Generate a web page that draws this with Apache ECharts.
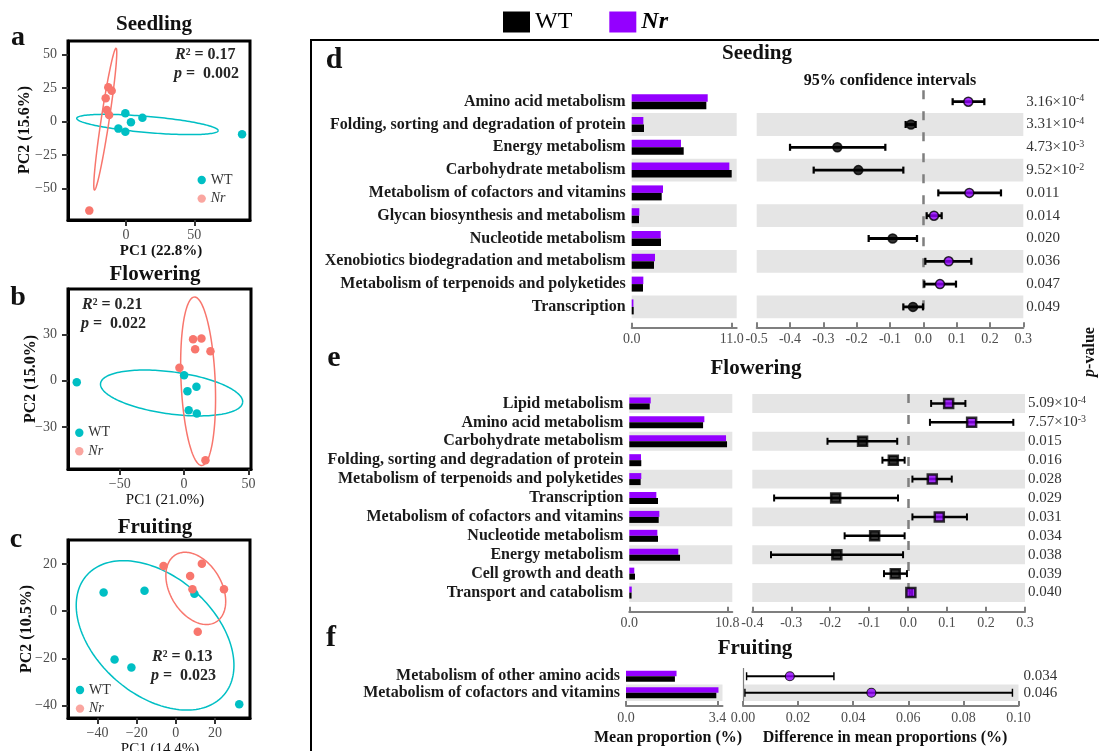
<!DOCTYPE html>
<html><head><meta charset="utf-8">
<script src="https://cdn.jsdelivr.net/npm/echarts@6/dist/echarts.min.js"></script>
<style>html,body{margin:0;padding:0;background:#fff}#c{width:1099px;height:751px}</style>
</head><body><div id="c"></div>
<script>
// ---------- PCoA data (PC1, PC2) ----------
const aWT = [[-0.5,6.2],[3.6,-0.5],[12,3],[-5.6,-5.2],[-0.5,-7.5],[85,-9.4]];
const aNr = [[-13,25.7],[-10.5,23.1],[-14.9,17.5],[-14.1,8.7],[-12.4,5],[-26.9,-66.4]];
const bWT = [[-83.4,-1.0],[0,3.5],[2.6,-6.7],[9.6,-3.9],[3.6,-19],[9.9,-21.2]];
const bNr = [[-3.6,8.5],[7,26.9],[13.5,27.3],[8.6,20.4],[20.5,19.1],[16.6,-51.5]];
const cWT = [[-36.9,7.9],[-16,8.6],[9.5,7.3],[-31.3,-20.5],[-22.7,-23.9],[32.4,-39.5]];
const cNr = [[-6.3,19.1],[13.3,20],[7.3,14.8],[8.5,9.2],[24.6,9.2],[11.2,-8.8]];
// confidence ellipses: [cx, cy, ux, uy, vx, vy] (centre + two conjugate semi-axes, data units)
const aEllWT = [15.7,-2.1,51.8,-4.6,0.5,6.0];
const aEllNr = [-15.2,1.9,7.9,52.9,2.9,-0.45];
const bEllWT = [-9.7,-7.9,55.2,-6.2,-2.2,-13.5];
const bEllNr = [10.9,-0.3,-2.9,54.5,13.25,0.5];
const cEllWT = [-10.6,-10.3,35.1,-25.3,-19.8,-19];
const cEllNr = [10.2,9.6,10.4,-14.2,-11.2,-5.7];
const aTicksX = [0,50], aTicksY = [-50,-25,0,25,50];
const bTicksX = [-50,0,50], bTicksY = [-30,0,30];
const cTicksX = [-40,-20,0,20], cTicksY = [-40,-20,0,20];
const statA = ['0.17','0.002'], statB = ['0.21','0.022'], statC = ['0.13','0.023'];

// ---------- STAMP-like data ----------
const dCats = ['Amino acid metabolism','Folding, sorting and degradation of protein','Energy metabolism','Carbohydrate metabolism','Metabolism of cofactors and vitamins','Glycan biosynthesis and metabolism','Nucleotide metabolism','Xenobiotics biodegradation and metabolism','Metabolism of terpenoids and polyketides','Transcription'];
const dWT = [8.21,1.35,5.72,11.0,3.30,0.80,3.22,2.45,1.24,0.22];
const dNr = [8.36,1.28,5.42,10.74,3.44,0.84,3.19,2.56,1.28,0.19];
const dDiff = [0.135,-0.037,-0.258,-0.195,0.138,0.032,-0.092,0.076,0.050,-0.031];
const dLo = [0.088,-0.053,-0.400,-0.329,0.045,0.010,-0.164,0.006,0.003,-0.060];
const dHi = [0.183,-0.023,-0.114,-0.060,0.233,0.055,-0.019,0.144,0.098,-0.001];
const dP = ['3.16×10^-4','3.31×10^-4','4.73×10^-3','9.52×10^-2','0.011','0.014','0.020','0.036','0.047','0.049'];
const dBarTicks = [0, 11.0];

const eCats = ['Lipid metabolism','Amino acid metabolism','Carbohydrate metabolism','Folding, sorting and degradation of protein','Metabolism of terpenoids and polyketides','Transcription','Metabolism of cofactors and vitamins','Nucleotide metabolism','Energy metabolism','Cell growth and death','Transport and catabolism'];
const eWT = [2.25,8.13,10.77,1.32,1.25,3.16,3.24,3.16,5.59,0.63,0.25];
const eNr = [2.36,8.27,10.66,1.29,1.32,2.98,3.31,3.09,5.40,0.55,0.27];
const eDiff = [0.104,0.163,-0.117,-0.038,0.062,-0.186,0.080,-0.086,-0.183,-0.033,0.007];
const eLo = [0.059,0.056,-0.207,-0.066,0.011,-0.344,0.011,-0.163,-0.352,-0.062,0.004];
const eHi = [0.147,0.270,-0.028,-0.009,0.112,-0.026,0.151,-0.009,-0.013,-0.003,0.010];
const eP = ['5.09×10^-4','7.57×10^-3','0.015','0.016','0.028','0.029','0.031','0.034','0.038','0.039','0.040'];
const eBarTicks = [0, 10.8];

const fCats = ['Metabolism of other amino acids','Metabolism of cofactors and vitamins'];
const fWT = [1.82,3.36];
const fNr = [1.88,3.44];
const fDiff = [0.017,0.0466];
const fLo = [0.0013,0.0007];
const fHi = [0.033,0.0978];
const fP = ['0.034','0.046'];
const fBarTicks = [0, 3.4];

// ---------- styling ----------
const SERIF = 'Liberation Serif';
const TEAL = '#00BFC4', SALMON = '#F8766D', PURPLE = '#9400FF', BAND = '#E5E5E5';

const chart = echarts.init(document.getElementById('c'), null, {renderer:'canvas'});

const grids = [
  {left:68, top:41, width:182, height:179},     // a
  {left:68, top:289, width:183, height:180},    // b
  {left:68, top:540, width:182, height:178},    // c
  {left:631.7, top:90.3, width:105, height:228},   // d bar
  {left:756.7, top:90.3, width:266.6, height:228}, // d ci
  {left:629.3, top:394, width:103, height:208},    // e bar
  {left:752.3, top:394, width:272.7, height:208},  // e ci
  {left:626, top:668, width:96.5, height:33},      // f bar
  {left:743, top:668, width:275.5, height:33}      // f ci
].map((g,i)=>Object.assign({outerBoundsMode:'none', containLabel:false}, g,
   i<3 ? {show:true, borderColor:'#000', borderWidth:3, backgroundColor:'transparent'} : {show:false}));

const minus = v => String(v).replace('-', '\u2212');
function pcX(gi, min, max, ticks){
  return {type:'value', gridIndex:gi, min, max, splitLine:{show:false},
    axisLine:{show:true, onZero:false, lineStyle:{color:'#000', width:3}},
    axisTick:{show:true, length:6, lineStyle:{color:'#333', width:2}, customValues:ticks},
    axisLabel:{customValues:ticks, color:'#4d4d4d', fontSize:14, fontFamily:SERIF, margin:8, formatter:minus}};
}
function pcY(gi, min, max, ticks){
  const o = pcX(gi, min, max, ticks); o.axisLabel.margin = 11; return o;
}
function barX(gi, max, ticks, off){
  return {type:'value', gridIndex:gi, min:0, max, offset:off, splitLine:{show:false},
    axisLine:{show:true, onZero:false, lineStyle:{color:'#7f7f7f', width:2}},
    axisTick:{show:true, inside:true, length:5, lineStyle:{color:'#7f7f7f', width:2}, customValues:ticks},
    axisLabel:{customValues:ticks, formatter:v=>v.toFixed(1), color:'#4d4d4d', fontSize:14, fontFamily:SERIF, margin:5}};
}
function ciX(gi, min, max, interval, dec, off){
  return {type:'value', gridIndex:gi, min, max, interval, offset:off, splitLine:{show:false},
    axisLine:{show:true, onZero:false, lineStyle:{color:'#7f7f7f', width:2}},
    axisTick:{show:true, inside:true, length:5, lineStyle:{color:'#7f7f7f', width:2}},
    axisLabel:{formatter:v=>(Math.abs(v)<1e-9?0:v).toFixed(dec), color:'#4d4d4d', fontSize:14, fontFamily:SERIF, margin:5}};
}
function catY(gi, cats, showLab){
  return {type:'category', gridIndex:gi, data:cats, inverse:true, axisLine:{show:false}, axisTick:{show:false},
    axisLabel:{show:showLab, interval:0, color:'#1a1a1a', fontWeight:'bold', fontSize:16, fontFamily:SERIF, margin:6}};
}
function pY(gi, cats, pv, m){
  return {type:'category', gridIndex:gi, data:cats, inverse:true, position:'right', axisLine:{show:false}, axisTick:{show:false},
    axisLabel:{interval:0, margin:m, align:'left', color:'#333', fontSize:15, fontFamily:SERIF,
      formatter:(v,i)=>{const s=pv[i]; const k=s.indexOf('^'); return k<0?'{n|'+s+'}':'{n|'+s.slice(0,k)+'}{s|'+s.slice(k+1)+'}';},
      rich:{n:{fontSize:15, fontFamily:SERIF, color:'#333', lineHeight:16}, s:{fontSize:10, fontFamily:SERIF, color:'#333', verticalAlign:'top', lineHeight:16, padding:[0,0,6,0]}}}};
}

const xAxis = [
  pcX(0,-42.5,90.8,aTicksX), pcX(1,-90.2,52,bTicksX), pcX(2,-55.1,37.9,cTicksX),
  barX(3,11.55,dBarTicks,9.5), ciX(4,-0.5,0.3,0.1,1,9),
  barX(5,11.35,eBarTicks,9.7), ciX(6,-0.4,0.3,0.1,1,9.7),
  barX(7,3.59,fBarTicks,5), ciX(8,0,0.1,0.02,2,5)
];
const yAxis = [
  pcY(0,-73.4,60.2,aTicksY), pcY(1,-57.1,59.4,bTicksY), pcY(2,-45.3,30.1,cTicksY),
  catY(3,dCats,true), pY(4,dCats,dP,3),
  catY(5,eCats,true), pY(6,eCats,eP,3),
  catY(7,fCats,true), pY(8,fCats,fP,5)
];

function ellSeries(gi, e, color){
  return {type:'custom', xAxisIndex:gi, yAxisIndex:gi, data:[e], silent:true, z:2, clip:false,
    renderItem:(p, api)=>{
      const pts=[];
      for(let k=0;k<=160;k++){const t=k/160*2*Math.PI;
        pts.push(api.coord([e[0]+e[2]*Math.cos(t)+e[4]*Math.sin(t), e[1]+e[3]*Math.cos(t)+e[5]*Math.sin(t)]));}
      return {type:'polyline', shape:{points:pts}, style:{stroke:color, lineWidth:1.5, fill:null}};
    }};
}
function ptSeries(gi, data, color){
  return {type:'scatter', name:'pc'+gi+color, xAxisIndex:gi, yAxisIndex:gi, data, symbolSize:8.5, z:3, silent:true,
    itemStyle:{color, opacity:1}};
}
function bandSeries(gi, cats, zeroLine){
  const n = cats.length;
  const s = {type:'custom', xAxisIndex:gi, yAxisIndex:gi, z:1, silent:true,
    data: cats.map((c,i)=>[0,i]).filter(d=>(n-1-d[1])%2===0), encode:{x:0,y:1},
    renderItem:(p, api)=>{
      const c = api.coord([0, api.value(1)]);
      const h = api.size([0,1])[1];
      const cs = p.coordSys;
      return {type:'rect', shape:{x:cs.x, y:c[1]-h/2, width:cs.width, height:h}, style:{fill:BAND}};
    }};
  if (zeroLine) s.markLine = {silent:true, symbol:'none', label:{show:false}, z:2, lineStyle:zeroLine, data:[{xAxis:0}]};
  return s;
}
function barSeries(gi, name, data, color, w){
  return {type:'bar', name, xAxisIndex:gi, yAxisIndex:gi, data, barWidth:w, barGap:'0%', z:2, silent:true, itemStyle:{color}};
}
function ciSeries(gi, lo, hi, lw, cap){
  return {type:'custom', xAxisIndex:gi, yAxisIndex:gi, z:3, silent:true,
    data: lo.map((l,i)=>[l, hi[i], i]), encode:{x:[0,1], y:2},
    renderItem:(p, api)=>{
      const a = api.coord([api.value(0), api.value(2)]);
      const b = api.coord([api.value(1), api.value(2)]);
      const st = {stroke:'#000', lineWidth:lw};
      return {type:'group', children:[
        {type:'line', shape:{x1:a[0],y1:a[1],x2:b[0],y2:b[1]}, style:st},
        {type:'line', shape:{x1:a[0],y1:a[1]-cap,x2:a[0],y2:a[1]+cap}, style:{stroke:'#000', lineWidth:lw*0.8}},
        {type:'line', shape:{x1:b[0],y1:b[1]-cap,x2:b[0],y2:b[1]+cap}, style:{stroke:'#000', lineWidth:lw*0.8}}
      ]};
    }};
}
function diffSeries(gi, diff, symbol, size, bw){
  return {type:'scatter', xAxisIndex:gi, yAxisIndex:gi, z:4, silent:true, symbol, symbolSize:size,
    data: diff.map((v,i)=>({value:[v,i], itemStyle:{color: v>0?PURPLE:'#000'}})),
    itemStyle:{borderColor:'#000', borderWidth:bw}};
}

const dash = {color:'#7f7f7f', width:2.5, type:[9,12]};
const series = [
  ellSeries(0,aEllWT,TEAL), ellSeries(0,aEllNr,SALMON), ptSeries(0,aWT,TEAL), ptSeries(0,aNr,SALMON),
  ellSeries(1,bEllWT,TEAL), ellSeries(1,bEllNr,SALMON), ptSeries(1,bWT,TEAL), ptSeries(1,bNr,SALMON),
  ellSeries(2,cEllWT,TEAL), ellSeries(2,cEllNr,SALMON), ptSeries(2,cWT,TEAL), ptSeries(2,cNr,SALMON),
  bandSeries(3,dCats), barSeries(3,'Nr',dNr,PURPLE,7.5), barSeries(3,'WT',dWT,'#000',7.5),
  bandSeries(4,dCats,dash), ciSeries(4,dLo,dHi,2.8,3.5), diffSeries(4,dDiff,'circle',9,1.5),
  bandSeries(5,eCats), barSeries(5,'Nr',eNr,PURPLE,6), barSeries(5,'WT',eWT,'#000',6),
  bandSeries(6,eCats,dash), ciSeries(6,eLo,eHi,2.5,3.5), diffSeries(6,eDiff,'rect',9,2.5),
  bandSeries(7,fCats), barSeries(7,'Nr',fNr,PURPLE,5.5), barSeries(7,'WT',fWT,'#000',5.5),
  bandSeries(8,fCats,{color:'#7f7f7f', width:1.2, type:'solid'}), ciSeries(8,fLo,fHi,1.8,4), diffSeries(8,fDiff,'circle',9,1.2)
];

// ---------- annotations ----------
function txt(x, y, text, size, opt){
  return Object.assign({type:'text', x, y, silent:true, style:Object.assign({text, fontSize:size, fontFamily:SERIF,
    fill:'#111', align:'center', verticalAlign:'middle'}, (opt&&opt.style)||{})}, opt&&opt.rot?{rotation:opt.rot}:{});
}
const bold = (o)=>({style:Object.assign({fontWeight:'bold'}, o||{})});
function stat(x, y, s){
  const rich = {i:{fontStyle:'italic', fontWeight:'bold', fontSize:16, fontFamily:SERIF, fill:'#262626'},
                n:{fontWeight:'bold', fontSize:16, fontFamily:SERIF, fill:'#262626'}};
  return [
    {type:'text', x, y, silent:true, style:{text:'{i|R}{n|\u00B2 = '+s[0]+'}', rich, align:'left', verticalAlign:'middle'}},
    {type:'text', x:x-1, y:y+19, silent:true, style:{text:'{i|p}{n| =  '+s[1]+'}', rich, align:'left', verticalAlign:'middle'}}
  ];
}
function miniLegend(x, y){
  return [
    {type:'circle', x, y, shape:{r:4.2}, style:{fill:TEAL}, silent:true},
    {type:'text', x:x+9, y, silent:true, style:{text:'WT', fontSize:14, fontFamily:SERIF, fill:'#333', verticalAlign:'middle'}},
    {type:'circle', x, y:y+18.6, shape:{r:4.2}, style:{fill:SALMON, opacity:0.65}, silent:true},
    {type:'text', x:x+9, y:y+18.6, silent:true, style:{text:'Nr', fontSize:14, fontStyle:'italic', fontFamily:SERIF, fill:'#333', verticalAlign:'middle'}}
  ];
}
const graphic = [
  {type:'polyline', shape:{points:[[310,40],[1099,40]]}, style:{stroke:'#000', lineWidth:2}, silent:true},
  {type:'polyline', shape:{points:[[311,40],[311,751]]}, style:{stroke:'#000', lineWidth:2}, silent:true},
  txt(18,38,'a',28,bold()), txt(18,298,'b',28,bold()), txt(16,540,'c',28,bold()),
  txt(334,60,'d',30,bold()), txt(334,358,'e',30,bold()), txt(331,638,'f',30,bold()),
  txt(154,25,'Seedling',21,bold()), txt(155,275,'Flowering',21,bold()), txt(155,528,'Fruiting',21,bold()),
  txt(757,54,'Seeding',21,bold()), txt(756,369,'Flowering',21,bold()), txt(755,649,'Fruiting',21,bold()),
  txt(25,130,'PC2 (15.6%)',16,{rot:Math.PI/2, style:{fontWeight:'bold'}}),
  txt(31,379,'PC2 (15.0%)',16,{rot:Math.PI/2, style:{fontWeight:'bold'}}),
  txt(27,629,'PC2 (10.5%)',16,{rot:Math.PI/2, style:{fontWeight:'bold'}}),
  txt(161,251,'PC1 (22.8%)',15,bold()), txt(165,500,'PC1 (21.0%)',15), txt(160,749,'PC1 (14.4%)',15),
  ...stat(175,55,statA), ...stat(82,305,statB), ...stat(152,657,statC),
  ...miniLegend(201.7,180), ...miniLegend(79.3,432.7), ...miniLegend(80,690),
  txt(890,81,'95% confidence intervals',16,bold()),
  {type:'text', x:1090, y:352, rotation:Math.PI/2, silent:true, style:{text:'{i|p}{n|-value}', align:'center', verticalAlign:'middle',
    rich:{i:{fontStyle:'italic', fontWeight:'bold', fontSize:16, fontFamily:SERIF, fill:'#111'}, n:{fontWeight:'bold', fontSize:16, fontFamily:SERIF, fill:'#111'}}}},
  txt(668,738,'Mean proportion (%)',16,bold()),
  txt(885,738,'Difference in mean proportions (%)',16,bold())
];

chart.setOption({
  animation:false,
  textStyle:{fontFamily:SERIF},
  legend:{data:['WT',{name:'Nr', textStyle:{fontStyle:'italic', fontWeight:'bold'}}], left:503, top:10, padding:0, icon:'rect',
    itemWidth:27, itemHeight:21, itemGap:37, selectedMode:false, textStyle:{fontSize:24, fontFamily:SERIF, color:'#000'}},
  grid:grids, xAxis, yAxis, series, graphic
});
</script></body></html>
